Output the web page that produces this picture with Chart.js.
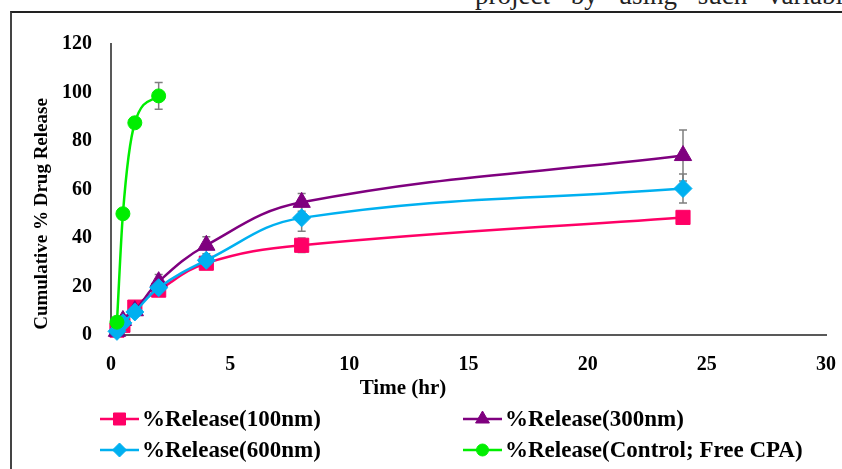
<!DOCTYPE html>
<html><head><meta charset="utf-8">
<script src="https://cdn.jsdelivr.net/npm/chart.js@4"></script>
<style>
html,body{margin:0;padding:0;background:#fff;}
#wrap{position:relative;width:842px;height:469px;overflow:hidden;background:#fff;}
#frame{position:absolute;left:10px;top:11px;width:900px;height:500px;border-left:2px solid #444;border-top:2px solid #222;}
#cap{position:absolute;left:475px;top:-18px;font:27px/27px "Liberation Serif",serif;color:#222;white-space:nowrap;word-spacing:14px;}
canvas{position:absolute;left:0;top:0;}
</style></head>
<body><div id="wrap"><div id="cap">project by using such variables</div><div id="frame"></div><canvas id="c" width="842" height="469"></canvas></div>
<script>
// ---- data ----
const timeHr = [0.25, 0.5, 1, 2, 4, 8, 24];
const timeControl = [0.25, 0.5, 1, 2];
const release100 = [2, 4, 11.5, 18.5, 29.6, 37, 48.5];
const err100 = [0.5, 1, 1.5, 1.5, 1.5, 3, 1];
const release300 = [1.5, 6, 10, 22, 37, 54.7, 74];
const err300 = [0.5, 1, 1.5, 3, 3.5, 3.7, 10.5];
const release600 = [1.5, 5, 9.5, 19.5, 30.8, 48.3, 60.4];
const err600 = [0.5, 1, 1.5, 2, 2, 5.5, 6];
const releaseControl = [5.3, 50, 87.5, 98.6];
const errControl = [1, 1, 1, 5.5];
const seriesNames = ['%Release(100nm)', '%Release(300nm)', '%Release(600nm)', '%Release(Control; Free CPA)'];
const xTitle = 'Time (hr)';
const yTitle = 'Cumulative % Drug Release';

const toPts = (xs, ys) => xs.map((x, i) => ({x: x, y: ys[i]}));
const errSets = [err100, err300, err600, errControl];
const xSets = [timeHr, timeHr, timeHr, timeControl];
const ySets = [release100, release300, release600, releaseControl];

const SERIF = '"Liberation Serif", "Times New Roman", serif';
const colors = ['#FF0066', '#7F007F', '#00B0F0', '#00EE00'];
const styles = ['rect', 'triangle', 'rectRot', 'circle'];
const radii = [10, 10, 9, 7];
const legendRadii = [8.5, 8, 7, 6];

const datasets = seriesNames.map((name, i) => ({
  label: name,
  data: toPts(xSets[i], ySets[i]),
  showLine: true,
  borderColor: colors[i],
  backgroundColor: colors[i],
  borderWidth: 2.5,
  pointStyle: styles[i],
  pointRadius: radii[i],
  pointHoverRadius: radii[i],
  pointBorderWidth: 1,
  pointBackgroundColor: colors[i],
  pointBorderColor: colors[i],
  tension: 0.4,
  cubicInterpolationMode: i === 3 ? 'monotone' : 'default',
  clip: false,
  order: 4 - i
}));

const errorBars = {
  id: 'errorBars',
  beforeDatasetsDraw(chart) {
    const ctx = chart.ctx, xs = chart.scales.x, ys = chart.scales.y;
    ctx.save();
    ctx.strokeStyle = '#7F7F7F';
    ctx.lineWidth = 1.5;
    errSets.forEach((errs, d) => {
      xSets[d].forEach((xv, j) => {
        const px = xs.getPixelForValue(xv);
        const top = ys.getPixelForValue(ySets[d][j] + errs[j]);
        const bot = ys.getPixelForValue(ySets[d][j] - errs[j]);
        ctx.beginPath();
        ctx.moveTo(px, top); ctx.lineTo(px, bot);
        ctx.moveTo(px - 4, top); ctx.lineTo(px + 4, top);
        ctx.moveTo(px - 4, bot); ctx.lineTo(px + 4, bot);
        ctx.stroke();
      });
    });
    ctx.restore();
  }
};

const texts = {
  id: 'texts',
  afterDraw(chart) {
    const ctx = chart.ctx;
    ctx.save();
    ctx.fillStyle = '#000';
    // y title
    ctx.font = 'bold 19px ' + SERIF;
    ctx.textAlign = 'center';
    ctx.textBaseline = 'middle';
    ctx.save();
    ctx.translate(42, 214);
    ctx.rotate(-Math.PI / 2);
    ctx.fillText(yTitle, 0, 0);
    ctx.restore();
    // x title
    ctx.font = 'bold 21px ' + SERIF;
    ctx.fillText(xTitle, 403, 389);
    // legend
    const pos = [[100, 419], [463, 419], [100, 450], [463, 450]];
    ctx.font = 'bold 23px ' + SERIF;
    ctx.textAlign = 'left';
    seriesNames.forEach((name, i) => {
      const [lx, ly] = pos[i];
      ctx.strokeStyle = colors[i];
      ctx.fillStyle = colors[i];
      ctx.lineWidth = 2.5;
      ctx.beginPath(); ctx.moveTo(lx, ly); ctx.lineTo(lx + 39, ly); ctx.stroke();
      ctx.lineWidth = 1;
      Chart.helpers.drawPoint(ctx, {pointStyle: styles[i], radius: legendRadii[i], rotation: 0, borderWidth: 1}, lx + 19.5, ly);
      ctx.fillStyle = '#000';
      ctx.fillText(name, lx + 42, ly + 1);
    });
    ctx.restore();
  }
};

new Chart(document.getElementById('c'), {
  type: 'scatter',
  data: {datasets: datasets},
  options: {
    responsive: false,
    animation: false,
    devicePixelRatio: 1,
    layout: {padding: {left: 0, top: 44, right: 16, bottom: 0}},
    plugins: {legend: {display: false}, tooltip: {enabled: false}},
    scales: {
      x: {
        type: 'linear', min: 0, max: 30,
        afterFit(s) { s.height = 134; s.paddingRight = 0; s.paddingLeft = 0; },
        grid: {display: false, drawTicks: false},
        border: {display: true, color: '#595959', width: 2},
        ticks: {stepSize: 5, maxRotation: 0, padding: 18, color: '#000', font: {family: SERIF, size: 20, weight: 'bold'}}
      },
      y: {
        min: 0, max: 120,
        afterFit(s) { s.width = 111; s.paddingTop = 0; s.paddingBottom = 0; },
        grid: {display: false, drawTicks: false},
        border: {display: true, color: '#595959', width: 2},
        ticks: {stepSize: 20, padding: 19, color: '#000', font: {family: SERIF, size: 20, weight: 'bold'}}
      }
    }
  },
  plugins: [errorBars, texts]
});
</script>
</body></html>
